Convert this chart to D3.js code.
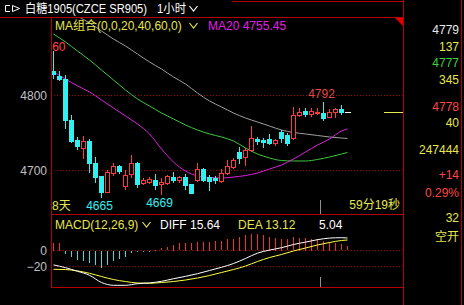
<!DOCTYPE html>
<html>
<head>
<meta charset="utf-8">
<script src="https://cdn.jsdelivr.net/npm/d3@7"></script>
<style>
html, body { margin: 0; padding: 0; background: #000; }
svg { display: block; }
text { font-family: "Liberation Sans", "Noto Sans CJK SC", sans-serif; font-size: 12px; }
</style>
</head>
<body>
<svg id="chart" width="464" height="305"></svg>
<script>
// Candles, 1 hour bars (last one is the bar still forming)
var opens  = [4833,4826,4822,4767,4741,4730,4740,4710,4693,4672,4697,4706,4679,4695,4710,4683,4684,4687,4682,4683,4692,4687,4692,4682,4688,
              4702,4691,4690,4686,4697,4705,4725,4718,4727,4742,4741,4742,4737,4752,4747,4743,4774,4779,4775,4777,4777,4771,4778,4782,4778]
var highs  = [4860,4833,4827,4774,4745,4746,4742,4718,4693,4701,4710,4707,4701,4721,4712,4690,4691,4696,4690,4694,4698,4693,4696,4682,4710,
              4704,4694,4693,4702,4714,4717,4732,4730,4759,4745,4743,4749,4742,4754,4750,4785,4784,4784,4784,4783,4792,4782,4783,4787,4778]
var lows   = [4823,4821,4757,4738,4729,4717,4698,4685,4665,4671,4694,4697,4675,4691,4678,4682,4683,4676,4669,4682,4685,4685,4676,4670,4686,
              4686,4674,4683,4685,4696,4704,4710,4707,4726,4735,4732,4736,4734,4738,4734,4742,4773,4773,4773,4775,4768,4771,4771,4776,4778]
var closes = [4829,4822,4767,4739,4733,4739,4710,4692,4671,4698,4706,4700,4694,4710,4682,4687,4689,4681,4684,4693,4688,4692,4681,4670,4702,
              4687,4686,4687,4697,4706,4714,4717,4727,4743,4740,4738,4737,4741,4744,4737,4774,4778,4775,4779,4778,4770,4778,4782,4778,4778]

// moving averages read at every second bar
var maIndex = [0,2,4,6,8,10,12,14,16,18,20,22,24,26,28,30,32,34,36,38,40,42,44,46,48,49]
var ma20 = [4831.3,4822.0,4812.7,4804.7,4794.0,4783.3,4772.7,4762.0,4748.7,4728.7,4711.3,4699.3,4692.7,
            4690.7,4690.0,4691.3,4693.3,4696.7,4702.0,4707.3,4715.3,4724.7,4734.0,4742.0,4752.7,4755.45]
var ma40 = [4882.0,4871.3,4859.3,4847.3,4834.0,4820.7,4807.3,4795.3,4786.0,4776.7,4768.7,4760.7,4754.0,
            4748.7,4744.7,4739.3,4730.0,4722.0,4716.7,4713.3,4712.7,4712.7,4714.7,4718.0,4722.0,4724.0]
var ma60 = [4927.3,4916.7,4906.0,4896.7,4886.0,4875.3,4866.0,4855.3,4844.7,4835.3,4824.7,4815.3,4803.3,
            4792.7,4784.7,4776.7,4770.0,4764.7,4759.3,4754.0,4750.7,4748.7,4746.7,4744.7,4743.3,4742.7]

// MACD(12,26,9)
var macdBars = [10,10,-3.5,-7.7,-11,-12.7,-15,-17,-21,-17,-12.7,-9.8,-7,-3,-1,-0.6,-0.3,0.5,2.8,4,6.9,9,9.8,9,11,
                11,11,11.7,11.7,14,15,17,19.4,20.6,20.6,19.4,17,16,15,14,16.5,16,16,15,14,12,11,9.8,8,5.04]
var diffVals = [-18,-21.5,-26,-31,-40,-43.5,-43.5,-41.5,-40.5,-38.5,-35.3,-32.3,-29,
                -25,-21,-16.3,-10,-3.3,0.5,3.5,7.5,10.5,13.5,15.5,16,15.64]
var deaVals  = [-23.5,-23.8,-25.5,-28.5,-32.5,-36.3,-38.8,-40.6,-41,-40,-38.8,-36.9,-34.4,
                -31.3,-27.5,-23.8,-19.4,-13.8,-8.8,-5,-0.6,3.1,6.9,10,12.5,13.12]

var priceTicks = [4700, 4800]
var macdTicks = [-20, 0]

// quote panel on the right
var quoteTexts = ["4779","137","4777","345","4778","40","247444","+14","0.29%","32","空开"]
var quoteColors = ["#e8e8e8","#e6e650","#3cd23c","#e6e650","#ff4646","#e6e650","#e6e650","#ff4646","#ff4646","#e6e650","#e6e650"]
var quoteY = [34,51,67,84,111,127,154,179,197,222,241]

var RED = "#b40000"
var UP = "#ff3c3c"
var DOWN = "#30f0f0"
var YELLOW = "#e6e650"

// panel edges (window.top is reserved, so other names)
var leftX = 51, rightX = 403, topY = 17, midY = 214, bottomY = 287

var svg = d3.select("#chart")
svg.append("rect").attr("width", 464).attr("height", 305).attr("fill", "#000")

var x = d3.scaleLinear().domain([0, 58]).range([53.5, 401.5])
var y = d3.scaleLinear().domain([4700, 4800]).range([170.5, 95.5])
var ym = d3.scaleLinear().domain([-20, 0]).range([266.5, 250.5])

var defs = svg.append("defs")
defs.append("clipPath").attr("id", "clipPrice")
    .append("rect").attr("x", leftX + 1).attr("y", topY + 1).attr("width", rightX - leftX - 1).attr("height", midY - topY - 1)
defs.append("clipPath").attr("id", "clipMacd")
    .append("rect").attr("x", leftX + 1).attr("y", midY + 1).attr("width", rightX - leftX - 1).attr("height", bottomY - midY - 1)

// dotted grid lines
svg.selectAll("line.pgrid").data(priceTicks).enter().append("line")
    .attr("x1", leftX).attr("x2", rightX)
    .attr("y1", function(d) { return y(d) }).attr("y2", function(d) { return y(d) })
    .attr("stroke", "#a00000").attr("stroke-dasharray", "1,2")
svg.selectAll("line.mgrid").data(macdTicks).enter().append("line")
    .attr("x1", leftX).attr("x2", rightX)
    .attr("y1", function(d) { return ym(d) }).attr("y2", function(d) { return ym(d) })
    .attr("stroke", "#a00000").attr("stroke-dasharray", "1,2")

// axes
function styleAxis(g) {
    g.select(".domain").remove()
    g.selectAll("text").attr("fill", "#c0c0c0")
        .style("font-family", "'Liberation Sans', sans-serif").style("font-size", "12px")
}
svg.append("g").attr("transform", "translate(" + leftX + ",0)")
    .call(d3.axisLeft(y).tickValues(priceTicks).tickSize(0).tickPadding(4).tickFormat(d3.format("d")))
    .call(styleAxis)
svg.append("g").attr("transform", "translate(" + leftX + ",0)")
    .call(d3.axisLeft(ym).tickValues(macdTicks).tickSize(0).tickPadding(4).tickFormat(d3.format("d")))
    .call(styleAxis)

var price = svg.append("g").attr("clip-path", "url(#clipPrice)")

// MA lines
var maLine = d3.line()
    .x(function(d, k) { return x(maIndex[k]) })
    .y(function(d) { return y(d) })
    .curve(d3.curveMonotoneX)
price.append("path").datum(ma60).attr("d", maLine).attr("fill", "none").attr("stroke", "#a0a0a0")
price.append("path").datum(ma40).attr("d", maLine).attr("fill", "none").attr("stroke", "#3cc83c")
price.append("path").datum(ma20).attr("d", maLine).attr("fill", "none").attr("stroke", "#e020e0")

// candles
for (var i = 0; i < opens.length; i++) {
    var cx = x(i)
    var o = opens[i], c = closes[i]
    var col = c > o ? UP : (c < o ? DOWN : "#ffffff")
    if (c == o) {
        price.append("line").attr("x1", cx - 2.5).attr("x2", cx + 3.5)
            .attr("y1", Math.round(y(c)) + 0.5).attr("y2", Math.round(y(c)) + 0.5).attr("stroke", col)
        continue
    }
    price.append("line").attr("x1", cx).attr("x2", cx)
        .attr("y1", Math.round(y(highs[i]))).attr("y2", Math.round(y(lows[i])) + 1)
        .attr("stroke", col)
    var yt = Math.round(y(Math.max(o, c))), yb = Math.round(y(Math.min(o, c)))
    if (c > o) {
        price.append("rect").attr("x", cx - 2).attr("y", yt + 0.5)
            .attr("width", 4).attr("height", Math.max(yb - yt, 1))
            .attr("fill", "#000").attr("stroke", col)
    } else {
        price.append("rect").attr("x", cx - 2.5).attr("y", yt)
            .attr("width", 5).attr("height", Math.max(yb - yt + 1, 1))
            .attr("fill", col)
    }
}

// high / low labels
price.append("text").attr("x", x(0) + 12).attr("y", y(4860) + 0.5).attr("text-anchor", "end")
    .attr("fill", "#ff4646").text("4860")
price.append("text").attr("x", x(45) - 2).attr("y", y(4792) - 4).attr("text-anchor", "middle")
    .attr("fill", "#e04848").text("4792")
price.append("text").attr("x", x(8) - 2).attr("y", y(4665) + 13).attr("text-anchor", "middle")
    .attr("fill", DOWN).text("4665")
price.append("text").attr("x", x(18) - 2).attr("y", y(4669) + 13).attr("text-anchor", "middle")
    .attr("fill", DOWN).text("4669")
price.append("text").attr("x", 52).attr("y", 210).attr("fill", YELLOW).text("8天")
price.append("text").attr("x", 400).attr("y", 209).attr("text-anchor", "end").attr("fill", YELLOW).text("59分19秒")

// last price marker
svg.append("line").attr("x1", 384).attr("x2", rightX)
    .attr("y1", Math.round(y(closes[closes.length - 1])) + 0.5).attr("y2", Math.round(y(closes[closes.length - 1])) + 0.5)
    .attr("stroke", "#e6e650")

// MACD histogram as 1px filled rects
var macd = svg.append("g").attr("clip-path", "url(#clipMacd)")
macd.selectAll("rect").data(macdBars).enter().append("rect")
    .attr("x", function(d, k) { return x(k) - 0.5 })
    .attr("width", 1)
    .attr("y", function(d) { return Math.round(Math.min(ym(0), ym(d))) })
    .attr("height", function(d) { return Math.max(1, Math.round(Math.abs(ym(d) - ym(0)))) })
    .attr("fill", function(d) { return d >= 0 ? "#ff2828" : "#20e8e8" })
var macdLine = d3.line()
    .x(function(d, k) { return x(maIndex[k]) })
    .y(function(d) { return ym(d) })
    .curve(d3.curveMonotoneX)
macd.append("path").datum(deaVals).attr("d", macdLine).attr("fill", "none").attr("stroke", "#ffff40")
macd.append("path").datum(diffVals).attr("d", macdLine).attr("fill", "none").attr("stroke", "#ffffff")

// legends
svg.append("text").attr("x", 55).attr("y", 30).attr("fill", YELLOW).text("MA组合(0,0,20,40,60,0)")
svg.append("text").attr("x", 208).attr("y", 30).attr("fill", "#e020e0").text("MA20 4755.45")
svg.append("text").attr("x", 55).attr("y", 229).attr("fill", YELLOW).text("MACD(12,26,9)")
svg.append("text").attr("x", 160).attr("y", 229).attr("fill", "#ffffff").text("DIFF 15.64")
svg.append("text").attr("x", 238).attr("y", 229).attr("fill", YELLOW).text("DEA 13.12")
svg.append("text").attr("x", 319).attr("y", 229).attr("fill", "#ffffff").text("5.04")

// chevrons
function chevron(cx, cy, col) {
    svg.append("path").attr("d", "M" + (cx - 4) + "," + (cy - 3) + "L" + cx + "," + (cy + 2) + "L" + (cx + 4) + "," + (cy - 3))
        .attr("fill", "none").attr("stroke", col).attr("stroke-width", 1.2)
}
chevron(193.5, 26, YELLOW)
chevron(146.5, 225, YELLOW)
chevron(193.5, 9, "#ffffff")

// title bar
svg.append("path").attr("d", "M10,5.5H5.5V11.5H10M12.5,5.5L19.5,8.5L12.5,11.5Z")
    .attr("fill", "none").attr("stroke", "#ffffff")
svg.append("text").attr("x", 25).attr("y", 13).attr("fill", "#ffffff")
    .attr("textLength", 122).attr("lengthAdjust", "spacingAndGlyphs").text("白糖1905(CZCE SR905)")
svg.append("text").attr("x", 157).attr("y", 13).attr("fill", "#ffffff")
    .attr("textLength", 29).attr("lengthAdjust", "spacingAndGlyphs").text("1小时")

// quote panel
svg.selectAll("text.quote").data(quoteTexts).enter().append("text")
    .attr("x", 459).attr("y", function(d, k) { return quoteY[k] })
    .attr("text-anchor", "end")
    .attr("fill", function(d, k) { return quoteColors[k] })
    .text(function(d) { return d })

// frame
var frame = [
    [232, 1.5, rightX, 1.5],
    [0, topY + 0.5, rightX, topY + 0.5],
    [leftX, midY + 0.5, rightX, midY + 0.5],
    [leftX, bottomY + 0.5, rightX, bottomY + 0.5],
    [leftX + 0.5, topY, leftX + 0.5, bottomY],
    [rightX + 0.5, 0, rightX + 0.5, 305],
    [461.5, 0, 461.5, 305]
]
svg.selectAll("line.frame").data(frame).enter().append("line")
    .attr("x1", function(d) { return d[0] }).attr("y1", function(d) { return d[1] })
    .attr("x2", function(d) { return d[2] }).attr("y2", function(d) { return d[3] })
    .attr("stroke", RED)
svg.append("path").attr("d", "M395,18L403,18L403,26Z").attr("fill", "#e00000")

// cursor ticks
svg.append("line").attr("x1", 320.5).attr("x2", 320.5).attr("y1", 200).attr("y2", midY).attr("stroke", "#909090")
svg.append("line").attr("x1", 320.5).attr("x2", 320.5).attr("y1", 277).attr("y2", bottomY).attr("stroke", "#909090")
</script>
</body>
</html>
